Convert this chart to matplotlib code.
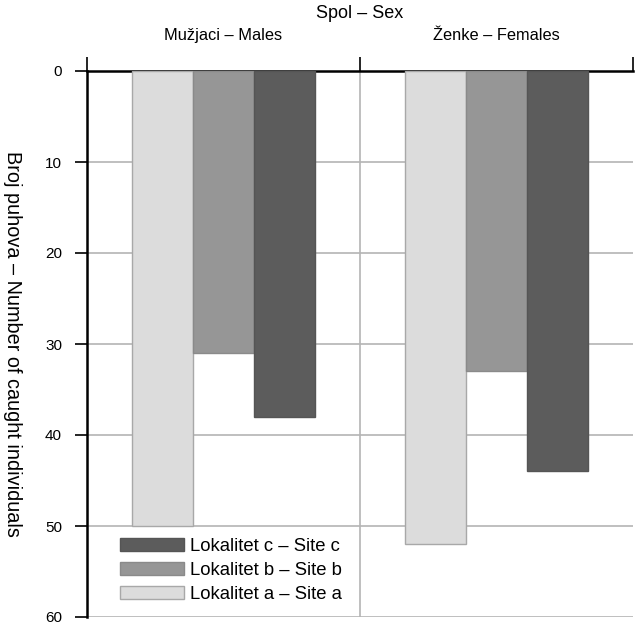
import matplotlib
matplotlib.use('Agg')
import matplotlib.pyplot as plt
import numpy as np

# Data (number of caught dormice)
categories = ['Mužjaci – Males', 'Ženke – Females']
site_labels = ['Lokalitet a – Site a', 'Lokalitet b – Site b', 'Lokalitet c – Site c']
site_a = [50, 52]
site_b = [31, 33]
site_c = [38, 44]
yticks = [0, 10, 20, 30, 40, 50, 60]

plt.rcParams['font.family'] = ['Liberation Sans', 'DejaVu Sans']

fig = plt.figure(figsize=(6.35, 6.26), dpi=100)
ax = fig.add_axes([87/635, 9/626, 546/635, 546/626])

colors = ['#dcdcdc', '#969696', '#5c5c5c']
edges = ['#a8a8a8', '#8a8a8a', '#555555']
x = np.arange(len(categories))
width = 0.223
bars = []
for i, (vals, lab) in enumerate(zip([site_a, site_b, site_c], site_labels)):
    b = ax.bar(x + (i - 1) * width, vals, width, color=colors[i],
               edgecolor=edges[i], linewidth=1, label=lab, zorder=3)
    bars.append(b)

ax.set_xlim(-0.5, 1.5)
ax.set_ylim(60, 0)

# gridlines + category separator
ax.set_yticks(yticks)
ax.yaxis.grid(True, color='#b4b4b4', linewidth=1.2, zorder=0)
ax.axvline(0.5, color='#b4b4b4', linewidth=1.2, zorder=0)

ax.xaxis.tick_top()
ax.xaxis.set_label_position('top')
ax.set_xticks(x)
ax.set_xticklabels(categories, fontsize=11.8)
ax.set_xticks([-0.5, 0.5, 1.5], minor=True)
ax.tick_params(axis='x', which='major', length=0, pad=20)
ax.tick_params(axis='x', which='minor', length=10, width=1.2, direction='out')
ax.tick_params(axis='y', length=9, width=1.2, direction='out', labelsize=11, pad=9)
ax.set_xlabel('Spol – Sex', fontsize=13, labelpad=7)
ax.set_ylabel('Broj puhova – Number of caught individuals', fontsize=14.3,
              rotation=270, va='center')
ax.yaxis.set_label_coords(-0.136, 0.5)

for side in ['bottom', 'right']:
    ax.spines[side].set_visible(False)
ax.spines['left'].set_linewidth(1.8)
ax.spines['top'].set_linewidth(1.8)

handles = bars[::-1]
leg = ax.legend(handles, [h.get_label() for h in handles], loc='lower left',
                bbox_to_anchor=(0.03, -0.005), frameon=False, fontsize=13.3,
                handlelength=3.45, handleheight=0.65, labelspacing=0.38,
                handletextpad=0.35)

plt.savefig('out.png', dpi=100)
